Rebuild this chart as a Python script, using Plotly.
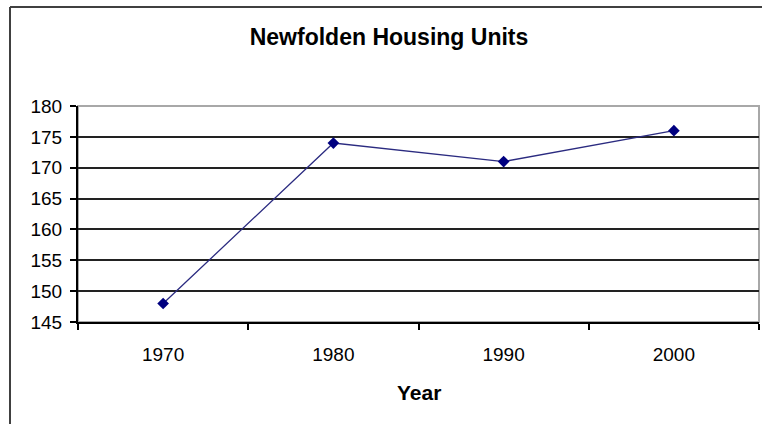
import plotly.graph_objects as go

# Data
years = ["1970", "1980", "1990", "2000"]
units = [148, 174, 171, 176]
y_ticks = [145, 150, 155, 160, 165, 170, 175, 180]

FONT = "Arial, 'Liberation Sans', sans-serif"

W, H = 762, 424
L, T, R, B = 78, 106, 3, 102
PW = W - L - R   # 681
PH = H - T - B   # 216

fig = go.Figure()

fig.add_trace(go.Scatter(
    x=years,
    y=units,
    mode="lines+markers",
    line=dict(color="#2b2b80", width=1.3),
    marker=dict(symbol="diamond", size=9, color="#000080"),
    showlegend=False,
    cliponaxis=False,
))

fig.update_layout(
    width=W,
    height=H,
    margin=dict(l=L, r=R, t=T, b=B),
    paper_bgcolor="white",
    plot_bgcolor="white",
    font=dict(family=FONT, color="black"),
    title=dict(
        text="<b>Newfolden Housing Units</b>",
        font=dict(size=23, family=FONT, color="black"),
        x=389 / W, xanchor="center",
        y=1 - 37 / H, yanchor="middle",
    ),
)

fig.update_xaxes(
    type="category",
    range=[-0.5, 3.5],
    tickson="boundaries",
    ticks="outside",
    ticklen=6,
    tickwidth=2,
    tickcolor="black",
    showgrid=False,
    showline=True,
    linecolor="black",
    linewidth=2,
    tickfont=dict(size=19, family=FONT),
    ticklabelstandoff=14,
    zeroline=False,
)

fig.update_yaxes(
    range=[145, 180],
    tickvals=y_ticks,
    ticks="outside",
    ticklen=6,
    tickwidth=2,
    tickcolor="black",
    showgrid=True,
    gridcolor="#222222",
    gridwidth=2,
    showline=True,
    linecolor="black",
    linewidth=2,
    tickfont=dict(size=19, family=FONT),
    ticklabelstandoff=4,
    zeroline=False,
)

# "Year" axis label
fig.add_annotation(
    text="<b>Year</b>",
    xref="paper", yref="paper",
    x=0.5, y=-70 / PH,
    xanchor="center", yanchor="middle",
    showarrow=False,
    font=dict(size=21, family=FONT, color="black"),
)

# plot area border (grey, visible top and right)
fig.add_shape(type="rect", xref="paper", yref="paper",
              x0=0, x1=1, y0=0, y1=1,
              line=dict(color="#a8a8a8", width=2), layer="below")

# outer chart frame: only top and left edges are visible (cropped picture)
fx0 = (10 - L) / PW
fy1 = (T - 7) / PH + 1
frame = dict(color="#404040", width=2)
fig.add_shape(type="line", xref="paper", yref="paper",
              x0=fx0, x1=(W - L) / PW, y0=fy1, y1=fy1, line=frame, layer="below")
fig.add_shape(type="line", xref="paper", yref="paper",
              x0=fx0, x1=fx0, y0=fy1, y1=-B / PH, line=frame, layer="below")

# drop the default body margin so the figure fills the window exactly
fig.write_html(
    "out.html",
    config={"displayModeBar": False},
    post_script="document.body.style.margin='0';document.body.style.overflow='hidden';",
)
